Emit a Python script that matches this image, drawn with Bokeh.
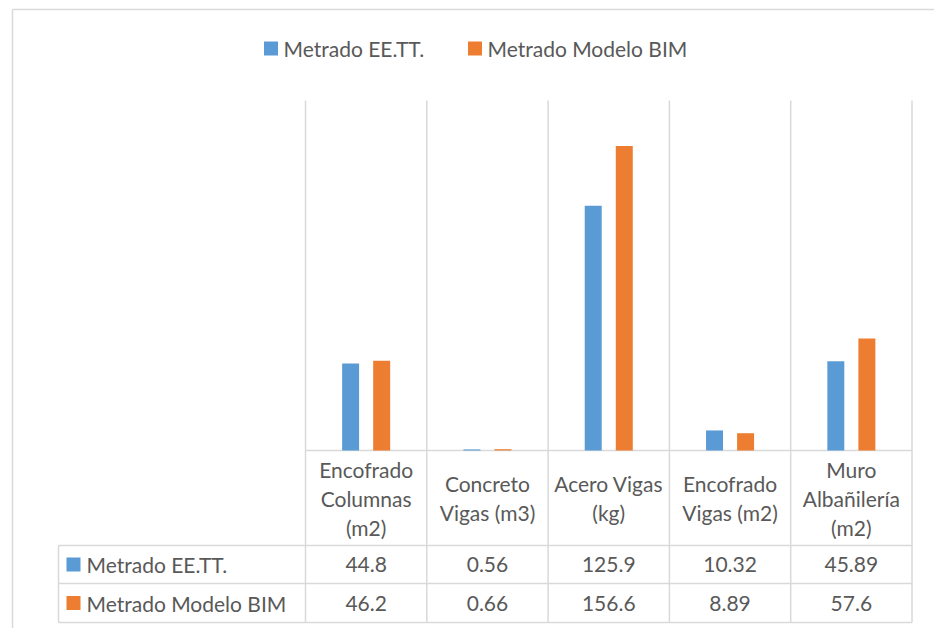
from bokeh.plotting import figure
from bokeh.models import Range1d
from bokeh.core.properties import value
from bokeh.embed import file_html
from bokeh.resources import INLINE

# ---------------- data ----------------
categories = ["Encofrado\nColumnas\n(m2)", "Concreto\nVigas (m3)", "Acero Vigas\n(kg)",
              "Encofrado\nVigas (m2)", "Muro\nAlbañilería\n(m2)"]
series_names = ["Metrado EE.TT.", "Metrado Modelo BIM"]
metrado_eett = [44.8, 0.56, 125.9, 10.32, 45.89]
metrado_bim = [46.2, 0.66, 156.6, 8.89, 57.6]
labels_eett = ["44.8", "0.56", "125.9", "10.32", "45.89"]
labels_bim = ["46.2", "0.66", "156.6", "8.89", "57.6"]
y_max = 180

# ---------------- layout (page pixels) ----------------
W, H = 934, 628
OX, OY = 0, 0
col_left, col_w = 305.0, 121.3
plot_top, base = 100.0, 450.0
hdr_bottom, row1_bottom, row2_bottom = 545.0, 583.0, 622.0
table_left = 58.0
blue, orange = "#5B9BD5", "#ED7D31"
grid_c = "#D9D9D9"
txt_c = "#595959"
FONT = value("Lato")
FS = "21px"

n = len(categories)
unit = (base - plot_top) / y_max

p = figure(width=W, height=H, output_backend="svg", toolbar_location=None,
           x_axis_location=None, y_axis_location=None, min_border=0,
           x_range=Range1d((OX - col_left) / col_w, (OX + W - col_left) / col_w),
           y_range=Range1d(-(OY + H - base) / unit, (base - OY) / unit))
p.extra_x_ranges = {"px": Range1d(OX, OX + W)}
p.extra_y_ranges = {"px": Range1d(OY + H, OY)}
p.grid.visible = False
p.outline_line_color = None
p.background_fill_color = "white"
p.border_fill_color = "white"

# outer chart border (top and left visible)
p.segment(x0=[12, 12], y0=[9, 9], x1=[OX + W + 5, 12], y1=[9, OY + H + 5],
          x_range_name="px", y_range_name="px", line_color=grid_c, line_width=1.5)

# category separator lines (through plot and table)
p.segment(x0=list(range(n + 1)), x1=list(range(n + 1)),
          y0=[plot_top] * (n + 1), y1=[row2_bottom] * (n + 1),
          y_range_name="px", line_color=grid_c, line_width=1.5)
# baseline
p.segment(x0=[0], x1=[n], y0=[0], y1=[0], line_color=grid_c, line_width=1.5)

# table horizontal lines + left border
right_px = col_left + n * col_w
p.segment(x0=[table_left] * 3 + [table_left], x1=[right_px] * 3 + [table_left],
          y0=[hdr_bottom, row1_bottom, row2_bottom, hdr_bottom],
          y1=[hdr_bottom, row1_bottom, row2_bottom, row2_bottom],
          x_range_name="px", y_range_name="px", line_color=grid_c, line_width=1.5)

# bars
off, bw = 0.128, 0.14
xs = [i + 0.5 for i in range(n)]
p.vbar(x=[x - off for x in xs], top=metrado_eett, bottom=0, width=bw,
       fill_color=blue, line_color=None)
p.vbar(x=[x + off for x in xs], top=metrado_bim, bottom=0, width=bw,
       fill_color=orange, line_color=None)

# category header labels
p.text(x=xs, y=[(base + hdr_bottom) / 2] * n, text=categories, y_range_name="px",
       text_align="center", text_baseline="middle", text_font=FONT,
       text_font_size=FS, text_color=txt_c, text_line_height=1.16)

# table values
r1 = (hdr_bottom + row1_bottom) / 2
r2 = (row1_bottom + row2_bottom) / 2
p.text(x=xs, y=[r1] * n, text=labels_eett, y_range_name="px",
       text_align="center", text_baseline="middle", text_font=FONT,
       text_font_size=FS, text_color=txt_c)
p.text(x=xs, y=[r2] * n, text=labels_bim, y_range_name="px",
       text_align="center", text_baseline="middle", text_font=FONT,
       text_font_size=FS, text_color=txt_c)

# table row legend keys
p.rect(x=[73, 73], y=[r1, r2], width=14, height=14, width_units="screen",
       height_units="screen", x_range_name="px", y_range_name="px",
       fill_color=[blue, orange], line_color=None)
p.text(x=[86, 86], y=[r1, r2], text=series_names, x_range_name="px", y_range_name="px",
       text_align="left", text_baseline="middle", text_font=FONT,
       text_font_size=FS, text_color=txt_c)

# top legend
p.rect(x=[270.5, 474.5], y=[48, 48], width=14, height=14, width_units="screen",
       height_units="screen", x_range_name="px", y_range_name="px",
       fill_color=[blue, orange], line_color=None)
p.text(x=[283, 487], y=[48, 48], text=series_names, x_range_name="px", y_range_name="px",
       text_align="left", text_baseline="middle", text_font=FONT,
       text_font_size=FS, text_color=txt_c)

open("out.html", "w").write(file_html(p, INLINE))
